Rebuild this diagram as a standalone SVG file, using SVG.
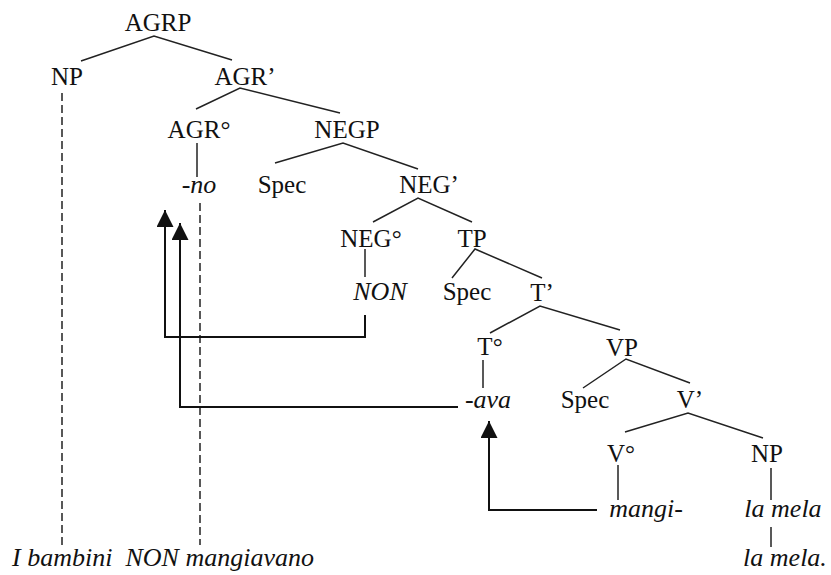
<svg xmlns="http://www.w3.org/2000/svg" width="831" height="575" viewBox="0 0 831 575">
<style>
text{font-family:'Liberation Serif','DejaVu Serif',serif;font-size:25px;fill:#111;text-anchor:middle}
.it{font-style:italic;font-size:26px}
.br{stroke:#222;stroke-width:1.5;fill:none}
.ds{stroke:#222;stroke-width:1.5;fill:none;stroke-dasharray:8 4}
.ar{stroke:#111;stroke-width:2;fill:none}
</style>
<defs>
<marker id="ah" markerUnits="userSpaceOnUse" markerWidth="18" markerHeight="20" viewBox="0 0 18 20" refX="17" refY="8.5" orient="auto">
<path d="M0,0 L17,8.5 L0,17 Z" fill="#111"/>
</marker>
</defs>
<rect width="831" height="575" fill="#fff"/>
<g id="connectors">
<path class="br" d="M81,61 L154,36 L232,60"/>
<path class="br" d="M196,109 L240,88 L340,113"/>
<path class="br" d="M197,143 V177"/>
<path class="br" d="M275,163 L343,143 L418,169"/>
<path class="br" d="M373,222 L418,198 L472,222"/>
<path class="br" d="M365,249 V277"/>
<path class="br" d="M452,278 L475,249 L542,278"/>
<path class="br" d="M490,333 L540,306 L620,330"/>
<path class="br" d="M483,360 V388"/>
<path class="br" d="M583,388 L626,359 L690,383"/>
<path class="br" d="M625,432 L688,413 L763,438"/>
<path class="br" d="M618,465 V500"/>
<path class="br" d="M771,468 V500"/>
<path class="ds" d="M62,93 V545"/>
<path class="ds" d="M200,203 V545"/>
<path class="br" d="M771,527 V547"/>
<path class="ar" d="M365,315 V337 H165 V210" marker-end="url(#ah)"/>
<path class="ar" d="M458,407 H180 V223" marker-end="url(#ah)"/>
<path class="ar" d="M597,510 H489 V421" marker-end="url(#ah)"/>
</g>
<g font-family="Liberation Serif, serif">
<g id="n-agrp"><text x="158" y="31">AGRP</text></g>
<g id="n-np1"><text x="67" y="85">NP</text></g>
<g id="n-agrbar"><text x="245" y="85">AGR’</text></g>
<g id="n-agr0"><text x="199" y="138">AGR°</text></g>
<g id="n-negp"><text x="347" y="138">NEGP</text></g>
<g id="n-no"><text class="it" x="199" y="193">-no</text></g>
<g id="n-spec1"><text x="282" y="193">Spec</text></g>
<g id="n-negbar"><text x="429" y="193">NEG’</text></g>
<g id="n-neg0"><text x="371" y="247">NEG°</text></g>
<g id="n-tp"><text x="472" y="247">TP</text></g>
<g id="n-non"><text class="it" x="380" y="300">NON</text></g>
<g id="n-spec2"><text x="467" y="300">Spec</text></g>
<g id="n-tbar"><text x="542" y="301">T’</text></g>
<g id="n-t0"><text x="490" y="355">T°</text></g>
<g id="n-vp"><text x="622" y="356">VP</text></g>
<g id="n-ava"><text class="it" x="488" y="408">-ava</text></g>
<g id="n-spec3"><text x="585" y="408">Spec</text></g>
<g id="n-vbar"><text x="690" y="408">V’</text></g>
<g id="n-v0"><text x="621" y="462">V°</text></g>
<g id="n-np2"><text x="767" y="462">NP</text></g>
<g id="n-mangi"><text class="it" x="646" y="517">mangi-</text></g>
<g id="n-lamela"><text class="it" x="783" y="517">la mela</text></g>
<g id="n-sent1"><text class="it" x="163" y="566" xml:space="preserve">I bambini  NON mangiavano</text></g>
<g id="n-sent2"><text class="it" x="785" y="566">la mela.</text></g>
</g>
</svg>
